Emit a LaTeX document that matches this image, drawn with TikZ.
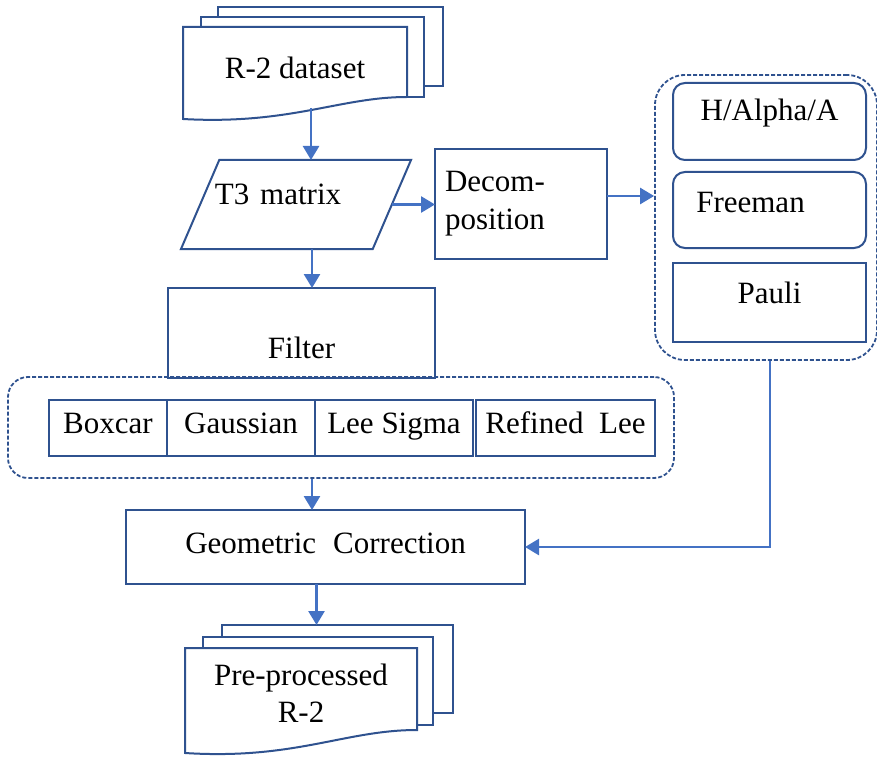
\documentclass[tikz,border=0pt]{standalone}
\usepackage{fontspec}
\setmainfont{Liberation Serif}
\definecolor{boxblue}{RGB}{47, 82, 143}
\definecolor{arrblue}{RGB}{68, 114, 196}
\usetikzlibrary{arrows.meta, positioning, shapes.geometric}

\begin{document}
\begin{tikzpicture}[
    x=0.5pt, y=-0.5pt,
    font=\fontsize{15.5}{19}\selectfont,
    box/.style={draw=boxblue, line width=1pt, fill=white, inner sep=0pt, outer sep=0pt},
    rbox/.style={box, rounded corners=6pt, minimum width=96.5pt},
    filt/.style={box, minimum height=28pt, text height=0.7em, text depth=0.2em},
    sheet/.style={box},
    group/.style={draw=boxblue, line width=0.9pt, dash pattern=on 2pt off 1pt, inner sep=0pt},
    arr/.style={-{Triangle[length=7pt, width=8pt]}, arrblue, line width=1.3pt},
  ]
  \useasboundingbox (0,0) rectangle (877,759);

  % input stack
  \node[sheet, minimum width=112.5pt, minimum height=39.5pt] (data3) at (330.5,46.5) {};
  \node[sheet, minimum width=111.5pt, minimum height=40pt] (data2) at (312.5,57) {};
  \draw[sheet] (183,27) -- (407,27) -- (407,97) .. controls (340,97) and (290,125) .. (183,119) -- cycle;
  \node[minimum width=112pt, minimum height=40.5pt] (data) at (295,67.5) {R-2 dataset};

  \node[box, trapezium, trapezium left angle=76, trapezium right angle=104, trapezium stretches=true,
        inner sep=3pt, minimum width=115pt, minimum height=44.5pt,
        label={[xshift=-9pt, yshift=5pt]center:T3\hspace{0.35em}matrix}] (t3) at (296,204.5) {};
  \node[box, minimum width=86pt, minimum height=55pt, align=left, text width=76pt] (decomp) at (521,204) {Decom-\\position};

  % filtering
  \node[box, minimum width=133.5pt, minimum height=45pt, label={[yshift=-7.5pt]center:Filter}] (filter) at (301.5,333) {};
  \node[group, rounded corners=10pt, minimum width=333pt, minimum height=50.5pt] (fgroup) at (341,427.5) {};
  \node[filt, minimum width=59pt] (boxcar) at (108,428) {Boxcar};
  \node[filt, minimum width=74pt, right=0pt of boxcar] (gauss) {Gaussian};
  \node[filt, minimum width=79pt, right=0pt of gauss] (leesig) {Lee Sigma};
  \node[filt, minimum width=89.5pt, right=1.5pt of leesig] (reflee) {Refined\hspace{0.5em}Lee};

  \node[box, minimum width=199.5pt, minimum height=37pt, label={[yshift=2pt]center:Geometric\hspace{0.55em}Correction}] (geo) at (325.5,547) {};

  % decompositions
  \node[group, rounded corners=15pt, minimum width=111pt, minimum height=142.5pt] (dgroup) at (766,217.5) {};
  \node[rbox, minimum height=38.5pt, label={[yshift=4pt]center:H/Alpha/A}] (halpha) at (769.5,121.5) {};
  \node[rbox, minimum height=38pt, below=6pt of halpha, label={[xshift=-9.5pt, yshift=3.5pt]center:Freeman}] (freeman) {};
  \node[box, minimum width=96.5pt, minimum height=39.5pt, below=7.5pt of freeman, label={[yshift=5pt]center:Pauli}] (pauli) {};

  % output stack
  \node[sheet, minimum width=115.5pt, minimum height=44pt] (out3) at (337.5,669) {};
  \node[sheet, minimum width=115pt, minimum height=44pt] (out2) at (318,681) {};
  \draw[sheet] (185,648) -- (417,648) -- (417,730) .. controls (345,730) and (295,760) .. (185,753) -- cycle;
  \node[align=center, font=\fontsize{15.5}{18.5}\selectfont, minimum width=116pt] (out) at (301,693) {Pre-processed\\R-2};

  \draw[arr] ([xshift=8pt]data.south) -- ([xshift=8pt]data.south |- t3.north);
  \draw[arr] ([xshift=8pt]t3.south) -- ([xshift=8pt]t3.south |- filter.north);
  \draw[arr] (t3.east) -- (t3.east -| decomp.west);
  \draw[arr] ([yshift=4pt]decomp.east) -- ([yshift=4pt]decomp.east -| dgroup.west);
  \draw[arr] ([xshift=-14.5pt]fgroup.south) -- ([xshift=-14.5pt]fgroup.south |- geo.north);
  \draw[arr] ([xshift=-4.5pt]geo.south) -- ([xshift=-4.5pt]geo.south |- out3.north);
  \draw[arr] ([xshift=2pt]dgroup.south) |- (geo.east);
\end{tikzpicture}
\end{document}
